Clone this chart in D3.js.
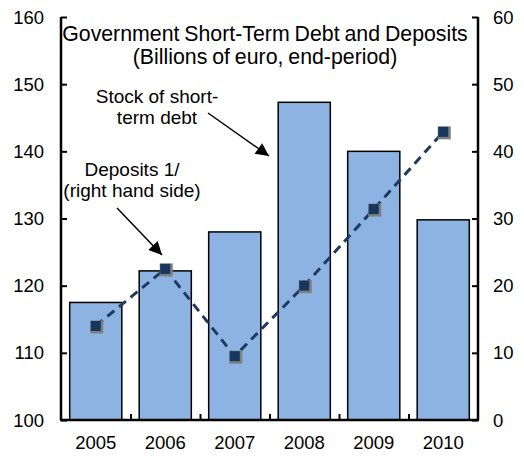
<!DOCTYPE html>
<html>
<head>
<meta charset="utf-8">
<script src="https://cdn.jsdelivr.net/npm/d3@7"></script>
<style>
  html, body { margin: 0; padding: 0; background: #fff; }
  svg { display: block; font-family: "Liberation Sans", Arial, sans-serif; }
</style>
</head>
<body>
<svg id="chart" width="524" height="456"></svg>
<script>
// Government short-term debt (bars, left axis) and deposits (line, right axis)
const years = ["2005", "2006", "2007", "2008", "2009", "2010"];
const shortTermDebt = [117.5, 122.2, 128.0, 147.3, 140.0, 129.8];
const deposits = [14.0, 22.5, 9.5, 20.0, 31.4, 42.9];
const leftTicks = [100, 110, 120, 130, 140, 150, 160];
const rightTicks = [0, 10, 20, 30, 40, 50, 60];

const svg = d3.select("#chart");
const margin = { left: 61, right: 46, top: 17, bottom: 36 };
const W = 524, H = 456;
const x0 = margin.left, x1 = W - margin.right;
const y0 = H - margin.bottom, y1 = margin.top;

const x = d3.scaleBand().domain(years).range([x0, x1]).paddingInner(0.25).paddingOuter(0.125);
const yL = d3.scaleLinear().domain([100, 160]).range([y0, y1]);
const yR = d3.scaleLinear().domain([0, 60]).range([y0, y1]);

const barFill = "#8DB3E2";
const navy = "#1F3A60";

// bars
svg.append("g").selectAll("rect").data(years).join("rect")
  .attr("x", d => x(d))
  .attr("width", x.bandwidth())
  .attr("y", (d, i) => yL(shortTermDebt[i]))
  .attr("height", (d, i) => y0 - yL(shortTermDebt[i]))
  .attr("fill", barFill)
  .attr("stroke", "#000")
  .attr("stroke-width", 1.5);

// axes: inward ticks on both value axes, category separators on the base
const fontSize = "18.5px";
const axL = svg.append("g").attr("transform", `translate(${x0},0)`)
  .call(d3.axisRight(yL).tickValues(leftTicks).tickSize(6).tickFormat(""));
const axR = svg.append("g").attr("transform", `translate(${x1},0)`)
  .call(d3.axisLeft(yR).tickValues(rightTicks).tickSize(6).tickFormat(""));
const step = x.step();
const boundaries = years.slice(1).map(d => x(d) - x.paddingInner() * step / 2);
const axB = svg.append("g").attr("transform", `translate(0,${y0})`)
  .call(d3.axisTop(d3.scaleLinear().domain([x0, x1]).range([x0, x1]))
    .tickValues(boundaries).tickSize(6).tickFormat(""));
[axL, axR, axB].forEach(a => {
  a.select(".domain").remove();
  a.selectAll(".tick line").attr("stroke", "#000").attr("stroke-width", 2);
});
svg.append("line").attr("x1", x0 - 1).attr("x2", x1 + 1).attr("y1", y0).attr("y2", y0)
  .attr("stroke", "#000").attr("stroke-width", 2.5);
svg.append("line").attr("x1", x0).attr("x2", x0).attr("y1", y1).attr("y2", y0)
  .attr("stroke", "#000").attr("stroke-width", 2.5);
svg.append("line").attr("x1", x1).attr("x2", x1).attr("y1", y1).attr("y2", y0)
  .attr("stroke", "#000").attr("stroke-width", 2.5);

// tick labels
svg.append("g").selectAll("text").data(leftTicks).join("text")
  .attr("x", 44).attr("y", d => yL(d) + 6.5)
  .attr("text-anchor", "end").attr("font-size", fontSize).text(d => d);
svg.append("g").selectAll("text").data(rightTicks).join("text")
  .attr("x", 493).attr("y", d => yR(d) + 6.5)
  .attr("text-anchor", "start").attr("font-size", fontSize).text(d => d);
svg.append("g").selectAll("text").data(years).join("text")
  .attr("x", d => x(d) + x.bandwidth() / 2).attr("y", 449)
  .attr("text-anchor", "middle").attr("font-size", fontSize).text(d => d);

// deposits line with square markers
const cx = d => x(d) + x.bandwidth() / 2;
const line = d3.line().x(d => cx(d)).y((d, i) => yR(deposits[i]));
svg.append("path").datum(years)
  .attr("d", line)
  .attr("fill", "none")
  .attr("stroke", navy)
  .attr("stroke-width", 3)
  .attr("stroke-dasharray", "9,6");
const ms = 13;
svg.append("g").selectAll("rect").data(years).join("rect")
  .attr("x", d => cx(d) - ms / 2 + 1)
  .attr("y", (d, i) => yR(deposits[i]) - ms / 2 + 1)
  .attr("width", ms).attr("height", ms)
  .attr("fill", "#7f7f7f");
svg.append("g").selectAll("rect").data(years).join("rect")
  .attr("x", d => cx(d) - ms / 2 + 1.5)
  .attr("y", (d, i) => yR(deposits[i]) - ms / 2 + 1.5)
  .attr("width", ms - 3).attr("height", ms - 3)
  .attr("fill", "#17375E");

// title
svg.append("text").attr("x", 265).attr("y", 41).attr("text-anchor", "middle")
  .attr("font-size", "21.3px").attr("word-spacing", "-1px")
  .text("Government Short-Term Debt and Deposits");
svg.append("text").attr("x", 265).attr("y", 64).attr("text-anchor", "middle")
  .attr("font-size", "21.3px").attr("word-spacing", "-1px")
  .text("(Billions of euro, end-period)");

// annotations
const defs = svg.append("defs");
defs.append("marker").attr("id", "arrowhead")
  .attr("viewBox", "0 0 10 10").attr("refX", 10).attr("refY", 5)
  .attr("markerWidth", 17).attr("markerHeight", 13).attr("markerUnits", "userSpaceOnUse")
  .attr("orient", "auto")
  .append("path").attr("d", "M0,0 L10,5 L0,10 Z").attr("fill", "#000");

const note = (lines, cxp, ys) => lines.forEach((t, i) =>
  svg.append("text").attr("x", cxp).attr("y", ys[i]).attr("text-anchor", "middle")
    .attr("font-size", "19px").text(t));
note(["Stock of short-", "term debt"], 157, [103, 124]);
note(["Deposits 1/", "(right hand side)"], 132, [176, 197]);

svg.append("line").attr("x1", 208).attr("y1", 113).attr("x2", 269).attr("y2", 156)
  .attr("stroke", "#000").attr("stroke-width", 1.5).attr("marker-end", "url(#arrowhead)");
svg.append("line").attr("x1", 117).attr("y1", 208).attr("x2", 162).attr("y2", 255)
  .attr("stroke", "#000").attr("stroke-width", 1.5).attr("marker-end", "url(#arrowhead)");
</script>
</body>
</html>
